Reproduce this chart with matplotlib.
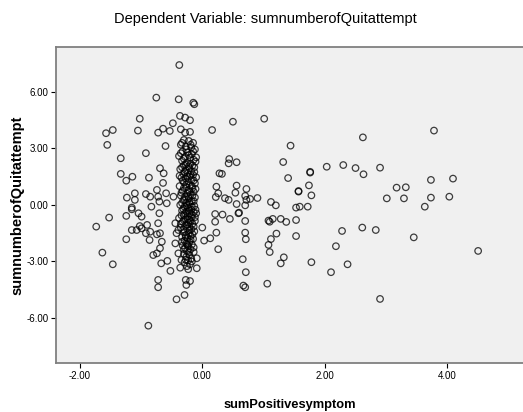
import matplotlib.pyplot as plt

# scatter values (sumPositivesymptom, sumnumberofQuitattempt)
x_outer = [-0.375, -0.75, -0.385, -0.147, -0.13, -1.02, -0.364, -0.28, -0.20, -0.48,
           -0.64, -0.53, -0.72, -1.05, -0.35, -0.28, -0.20, 0.16, -1.57, -1.46,
           -1.55, -1.33, -0.92, -0.60, -1.33, -1.24, -1.14, -0.87, -0.69, -0.63,
           -0.10, -0.10, -1.23, -1.10, -1.10, -0.92, -0.85, -0.74, -0.72, -0.70,
           -0.59, -0.58, -0.47, -1.15, -0.83, -0.64, 0.23, 0.26, 0.28,
           -1.73, -1.52, -1.24, -1.63, -1.46, -1.24, -1.15, -1.15, -1.04, -0.99,
           -1.07, -0.99, -0.92, -0.86, -0.85, -0.90, -1.02, -0.70, -0.72, -0.69,
           -0.74, -0.66, -0.69, -0.74, -0.80, -0.67, -0.57, -0.52, -0.72, -0.72,
           -0.42, -0.29, -0.27, -0.20, -0.26, -0.36, -0.23, -0.09, -0.09, -0.88,
           -0.39, -0.34, -0.44, -0.42, -0.39, -0.44, 0.00, 0.03, 0.13, 0.21,
           0.21, 0.23, 0.26, -0.10]
y_outer = [7.43, 5.70, 5.61, 5.43, 5.35, 4.58, 4.73, 4.64, 4.50, 4.34,
           4.05, 3.93, 3.84, 3.95, 4.02, 3.84, 3.88, 3.98, 3.81, 3.98,
           3.19, 2.48, 2.75, 3.13, 1.65, 1.29, 1.50, 1.45, 1.95, 1.68,
           2.53, 1.47, 0.39, 0.62, 0.27, 0.58, 0.44, 0.80, 0.44, 0.18,
           0.62, 0.09, 0.44, -0.14, -0.09, 1.17, 0.97, 0.62, 1.68,
           -1.15, -0.67, -0.58, -2.53, -3.15, -1.82, -1.33, -0.23, -0.44, -0.62,
           -1.33, -1.24, -1.50, -1.86, -1.42, -1.06, -1.12, -0.44, -0.97, -1.50,
           -1.56, -1.95, -2.30, -2.57, -2.66, -3.10, -2.97, -3.50, -3.98, -4.37,
           -5.01, -4.78, -3.98, -4.04, -4.25, -3.33, -3.41, -3.36, -2.83, -6.41,
           -2.57, -2.92, -2.04, -1.50, -1.33, -0.97, -1.20, -1.89, -1.77, -0.48,
           -0.89, -1.47, -2.35, -0.44]

x_right = [0.50, 1.01, 1.44, 2.62, 0.44, 0.43, 0.56, 0.32, 1.32, 1.40,
           1.76, 1.76, 2.03, 2.30, 2.50, 2.63, 1.74, 1.57, 1.57, 1.78,
           0.22, 0.56, 0.54, 0.72, 0.70, 0.72, 0.78, 0.90, 0.43, 0.56,
           0.70, 1.12, 1.20, 1.53, 1.59, 1.72, 0.37,
           0.33, 0.45, 0.59, 0.60, 0.70, 0.70, 0.71, 0.66, 0.71, 0.67,
           0.70, 1.08, 1.10, 1.15, 1.28, 1.37, 1.21, 1.12, 1.08, 1.10,
           1.33, 1.28, 1.06, 1.53, 1.53, 1.78, 2.10, 2.37, 2.18, 2.28,
           2.61, 3.78, 2.90, 3.17, 3.32, 3.01, 3.29, 3.73, 4.09, 3.73,
           4.03, 3.63, 2.83, 3.45, 4.50, 2.90]
y_right = [4.42, 4.58, 3.15, 3.59, 2.44, 2.21, 2.27, 1.65, 2.28, 1.43,
           1.72, 1.76, 2.03, 2.12, 1.96, 1.63, 1.04, 0.71, 0.74, 0.51,
           0.42, 1.03, 0.65, 0.85, 0.48, 0.27, 0.32, 0.37, 0.27, 0.05,
           -0.02, 0.16, -0.02, -0.14, -0.09, -0.09, 0.36,
           -0.51, -0.74, -0.44, -0.41, -0.85, -1.47, -1.82, -2.88, -3.57, -4.28,
           -4.37, -0.83, -0.89, -0.74, -0.74, -0.90, -1.52, -1.81, -2.12, -2.50,
           -2.78, -3.10, -4.18, -0.80, -1.65, -3.04, -3.57, -3.15, -2.19, -1.38,
           -1.20, 3.95, 1.98, 0.92, 0.94, 0.35, 0.35, 1.33, 1.40, 0.39,
           0.44, -0.09, -1.33, -1.72, -2.44, -4.99]

# dense column just left of zero
x_core = [-0.30, -0.22, -0.15, -0.35, -0.27, -0.18, -0.12, -0.32, -0.24, -0.17,
          -0.38, -0.28, -0.20, -0.14, -0.33, -0.25, -0.19, -0.30, -0.22, -0.13,
          -0.36, -0.27, -0.18, -0.24, -0.31, -0.15, -0.21, -0.34, -0.27, -0.17,
          -0.23, -0.30, -0.12, -0.20, -0.37, -0.26, -0.16, -0.22, -0.32, -0.14,
          -0.25, -0.19, -0.35, -0.28, -0.12, -0.22, -0.31, -0.17, -0.26, -0.20,
          -0.36, -0.13, -0.29, -0.23, -0.18, -0.33, -0.26, -0.14, -0.21, -0.30,
          -0.24, -0.17, -0.38, -0.27, -0.20, -0.12, -0.32, -0.23, -0.16, -0.28,
          -0.21, -0.35, -0.25, -0.18, -0.13, -0.30, -0.22, -0.27, -0.19, -0.33,
          -0.24, -0.15, -0.29, -0.21, -0.26, -0.17, -0.32, -0.23, -0.28, -0.19,
          -0.25, -0.14, -0.30, -0.21, -0.26, -0.18, -0.23, -0.29, -0.20, -0.25,
          -0.33, -0.19, -0.26, -0.15, -0.35, -0.22, -0.30, -0.11, -0.27, -0.16,
          -0.33, -0.21, -0.29, -0.13, -0.19, -0.37, -0.25, -0.14, -0.32, -0.26,
          -0.17, -0.30, -0.11, -0.21, -0.34, -0.16, -0.23, -0.29, -0.14, -0.21,
          -0.33, -0.25, -0.17, -0.31, -0.11, -0.22, -0.28, -0.17, -0.34, -0.12,
          -0.24, -0.30, -0.19, -0.35, -0.25, -0.14, -0.31, -0.21, -0.16, -0.27,
          -0.19, -0.33, -0.24, -0.14, -0.30, -0.22, -0.27, -0.17]
y_core = [3.45, 3.40, 3.30, 3.20, 3.10, 3.05, 2.95, 2.85, 2.80, 2.70,
          2.60, 2.55, 2.50, 2.40, 2.35, 2.25, 2.20, 2.10, 2.05, 2.00,
          1.90, 1.85, 1.80, 1.70, 1.65, 1.60, 1.50, 1.45, 1.40, 1.35,
          1.25, 1.20, 1.15, 1.05, 1.00, 0.95, 0.90, 0.80, 0.75, 0.70,
          0.60, 0.55, 0.50, 0.45, 0.40, 0.35, 0.25, 0.20, 0.10, 0.05,
          0.00, -0.05, -0.10, -0.15, -0.25, -0.30, -0.35, -0.40, -0.45, -0.55,
          -0.60, -0.65, -0.70, -0.75, -0.80, -0.85, -0.90, -0.95, -1.00, -1.10,
          -1.15, -1.20, -1.25, -1.30, -1.40, -1.45, -1.50, -1.60, -1.65, -1.70,
          -1.75, -1.80, -1.90, -1.95, -2.05, -2.10, -2.15, -2.20, -2.30, -2.35,
          -2.45, -2.50, -2.60, -2.65, -2.75, -2.85, -2.95, -3.05, -3.15, -3.25,
          3.30, 3.20, 2.95, 2.85, 2.75, 2.65, 2.45, 2.30, 2.15, 2.10,
          2.00, 1.95, 1.75, 1.75, 1.60, 1.55, 1.50, 1.30, 1.30, 1.10,
          1.00, 0.90, 0.85, 0.70, 0.65, 0.50, 0.45, 0.30, 0.20, 0.15,
          0.10, -0.05, -0.10, -0.20, -0.25, -0.30, -0.45, -0.50, -0.55, -0.65,
          -0.75, -0.80, -0.90, -1.00, -1.05, -1.15, -1.30, -1.35, -1.55, -1.70,
          -1.85, -1.95, -2.10, -2.25, -2.35, -2.50, -2.90, -3.00]

xs = x_outer + x_right + x_core
ys = y_outer + y_right + y_core

plt.rcParams['font.family'] = ['Liberation Sans', 'DejaVu Sans']

fig = plt.figure(figsize=(5.23, 4.12), dpi=100)
ax = fig.add_axes([0.107, 0.119, 0.893, 0.767])
ax.set_facecolor('#f0f0f0')

ax.scatter(xs, ys, s=22, facecolors='none', edgecolors='black', linewidths=0.9, alpha=0.75)

ax.set_xlim(-2.387, 5.232)
ax.set_ylim(-8.39, 8.39)
ax.set_xticks([-2, 0, 2, 4])
ax.set_xticklabels(['-2.00', '0.00', '2.00', '4.00'])
ax.set_yticks([-6, -3, 0, 3, 6])
ax.set_yticklabels(['-6.00', '-3.00', '0.00', '3.00', '6.00'])
ax.tick_params(direction='out', length=3.5, width=0.8, labelsize=7, colors='black', pad=2)

for side in ['left', 'top', 'bottom']:
    ax.spines[side].set_color('#808080')
    ax.spines[side].set_linewidth(1.3)
ax.spines['right'].set_visible(False)

ax.set_xlabel('sumPositivesymptom', fontsize=9.3, fontweight='bold', labelpad=13)
ax.set_ylabel('sumnumberofQuitattempt', fontsize=10.5, fontweight='bold', labelpad=1)
fig.text(0.507, 0.953, 'Dependent Variable: sumnumberofQuitattempt', fontsize=10.5,
         ha='center', va='center')

fig.savefig('out.png', dpi=100)
